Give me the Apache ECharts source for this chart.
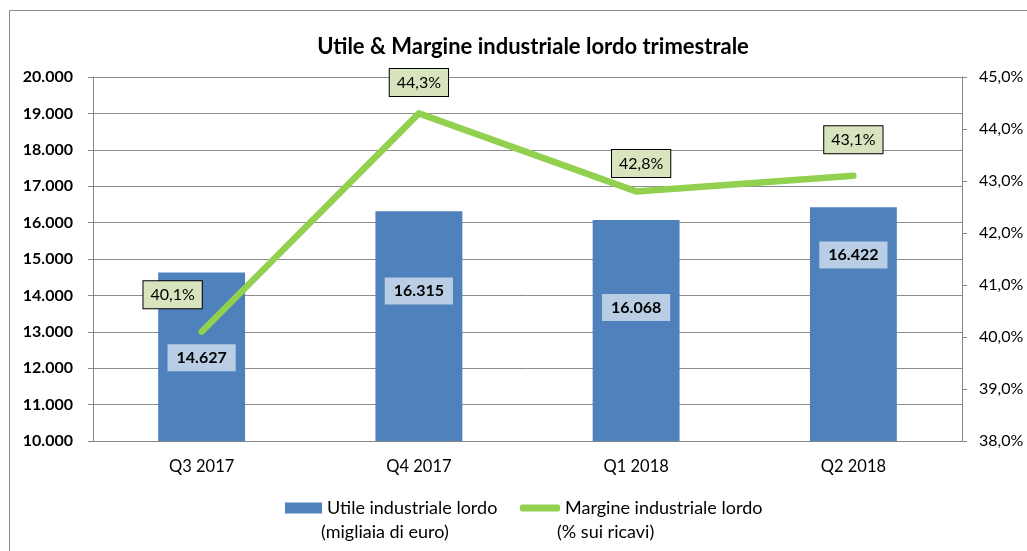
<!DOCTYPE html>
<html>
<head>
<meta charset="utf-8">
<script src="https://cdn.jsdelivr.net/npm/echarts@6/dist/echarts.min.js"></script>
<style>
  html, body { margin: 0; padding: 0; background: #fff; }
  #chart { width: 1027px; height: 551px; }
</style>
</head>
<body>
<div id="chart"></div>
<script>
// dati
const categories = ['Q3 2017', 'Q4 2017', 'Q1 2018', 'Q2 2018']
const utile = [14627, 16315, 16068, 16422]      // migliaia di euro
const margine = [40.1, 44.3, 42.8, 43.1]        // % sui ricavi
const leftTicks = { min: 10000, max: 20000, step: 1000 }
const rightTicks = { min: 38, max: 45, step: 1 }

// posizione delle etichette (spostamento rispetto al punto)
const barLabelShift = [[0, 1], [0, -35], [0, -23], [0, -69]]
const lineLabelShift = [[-29, -37], [0, -31], [5, -28], [0, -36]]

const FONT = 'Lato, "Open Sans", sans-serif'
const GRAY = '#868686'

const fmtThousands = v => String(Math.round(v)).replace(/\B(?=(\d{3})+(?!\d))/g, '.')
const fmtPct = v => v.toFixed(1).replace('.', ',') + '%'

const nameBar = 'Utile industriale lordo'
const nameLine = 'Margine industriale lordo'

let myChart = echarts.init(document.getElementById('chart'))
let option = {
  animation: false,
  textStyle: { fontFamily: FONT },
  title: {
    text: 'Utile & Margine industriale lordo trimestrale',
    left: 528, top: 31, textAlign: 'center',
    textStyle: { fontSize: 22, fontWeight: 'bold', color: '#000', fontFamily: FONT }
  },
  grid: { left: 93, right: 65, top: 77, bottom: 110 },
  legend: [
    {
      data: [nameBar], left: 280, top: 494, icon: 'rect',
      itemWidth: 37, itemHeight: 11, itemGap: 0, itemStyle: { color: '#4f81bd' },
      textStyle: { fontSize: 18, color: '#000', fontFamily: FONT }
    },
    {
      data: [nameLine], left: 515, top: 494, icon: 'roundRect',
      itemWidth: 40, itemHeight: 7, itemGap: 0,
      textStyle: { fontSize: 18, color: '#000', fontFamily: FONT }
    }
  ],
  graphic: [
    {
      type: 'rect', silent: true, z: -1,
      shape: { x: 9.5, y: 10.5, width: 1100, height: 600 },
      style: { fill: 'none', stroke: '#8a8a8a', lineWidth: 1 }
    },
    {
      type: 'text', left: 321, top: 523,
      style: { text: '(migliaia di euro)', fill: '#000', font: '18px ' + FONT }
    },
    {
      type: 'text', left: 557, top: 523,
      style: { text: '(% sui ricavi)', fill: '#000', font: '18px ' + FONT }
    }
  ],
  xAxis: {
    type: 'category',
    data: categories,
    axisTick: { show: false },
    axisLine: { lineStyle: { color: GRAY } },
    axisLabel: { color: '#000', fontSize: 16.5, margin: 17 }
  },
  yAxis: [
    {
      type: 'value',
      min: leftTicks.min, max: leftTicks.max, interval: leftTicks.step,
      axisLine: { show: true, lineStyle: { color: GRAY } },
      axisTick: { show: true, length: 5, lineStyle: { color: GRAY } },
      axisLabel: { color: '#000', fontSize: 16, fontWeight: 'bold', margin: 20, formatter: fmtThousands },
      splitLine: { lineStyle: { color: '#8c8c8c' } }
    },
    {
      type: 'value',
      min: rightTicks.min, max: rightTicks.max, interval: rightTicks.step,
      axisLine: { show: true, lineStyle: { color: GRAY } },
      axisTick: { show: true, length: 5, lineStyle: { color: GRAY } },
      axisLabel: { color: '#000', fontSize: 16, margin: 17, formatter: fmtPct },
      splitLine: { show: false }
    }
  ],
  series: [
    {
      name: nameBar,
      type: 'bar',
      barWidth: '40%',
      itemStyle: { color: '#4f81bd' },
      data: utile.map((v, i) => ({ value: v, label: { offset: barLabelShift[i] } })),
      label: {
        show: true, position: 'inside',
        formatter: p => fmtThousands(p.value),
        color: '#000', fontSize: 16, fontWeight: 'bold', fontFamily: FONT,
        backgroundColor: '#b9cde5', padding: [6, 9, 5, 9]
      }
    },
    {
      name: nameLine,
      type: 'line',
      yAxisIndex: 1,
      symbol: 'circle', symbolSize: 2,
      itemStyle: { color: '#92d050' },
      lineStyle: { color: '#92d050', width: 6.5, cap: 'round', join: 'round' },
      z: 3,
      data: margine.map((v, i) => ({ value: v, label: { offset: lineLabelShift[i] } })),
      label: {
        show: true, position: 'inside',
        formatter: p => fmtPct(p.value),
        color: '#000', fontSize: 16, fontFamily: FONT,
        backgroundColor: '#d7e4bd', borderColor: '#000', borderWidth: 1,
        padding: [6, 7, 5, 7]
      }
    }
  ]
}

myChart.setOption(option)
</script>
</body>
</html>
